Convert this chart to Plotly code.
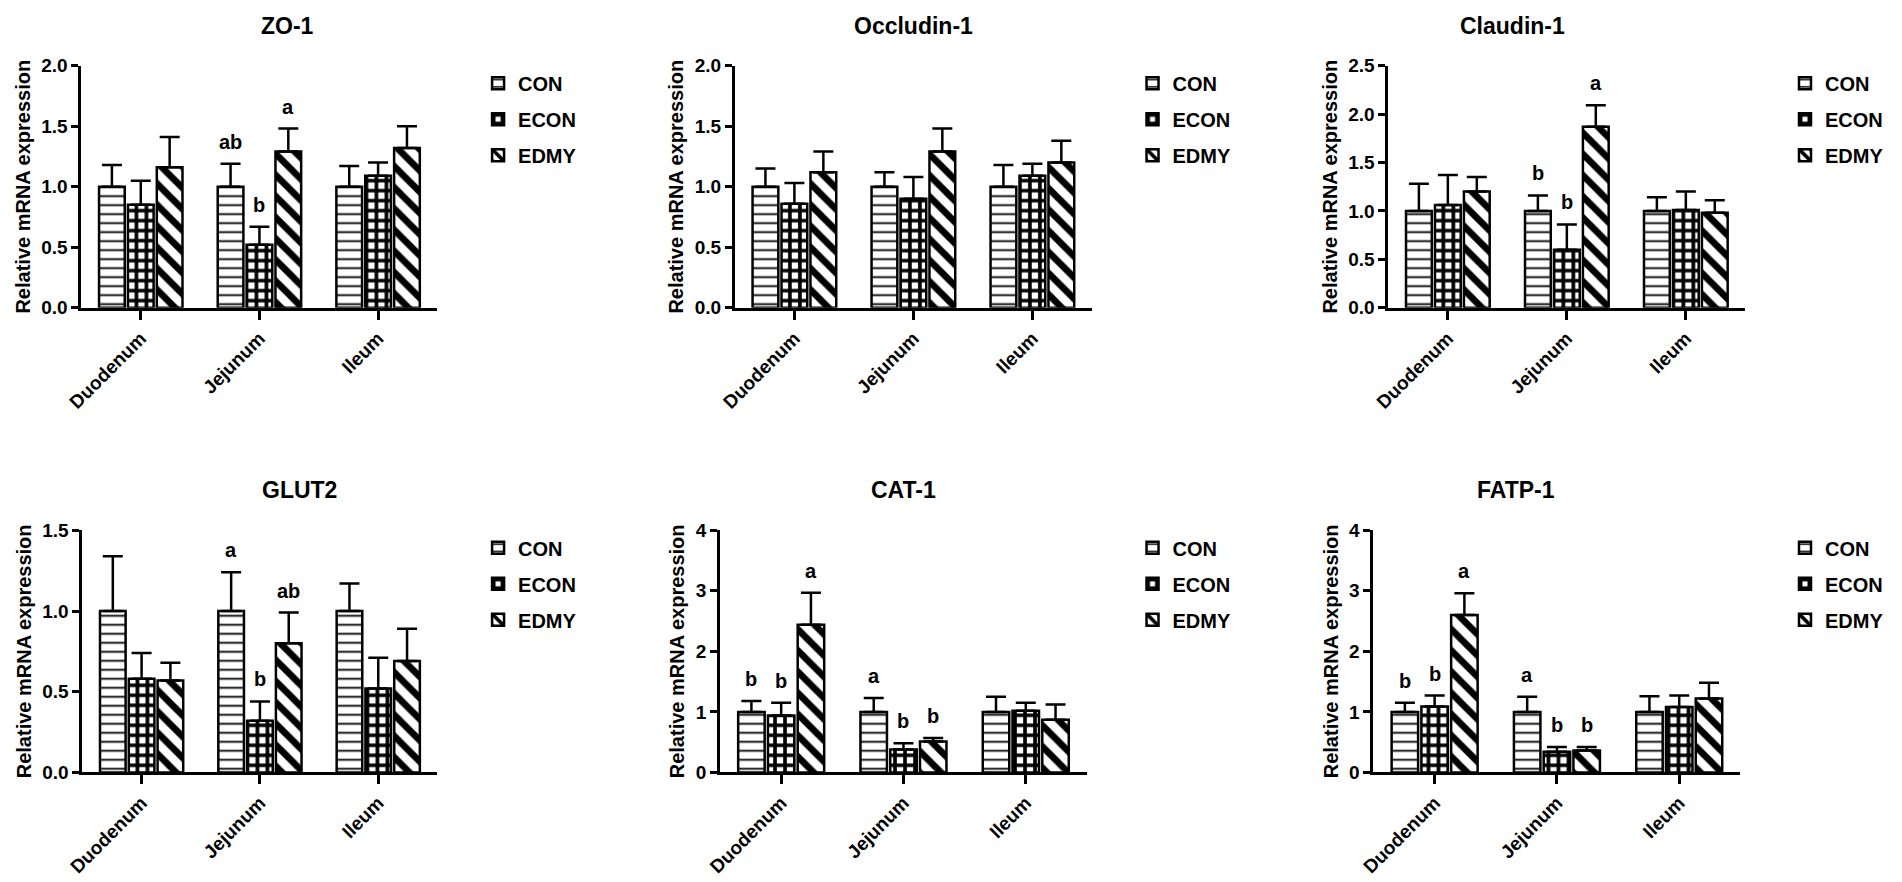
import plotly.graph_objects as go

SEGMENTS = ["Duodenum", "Jejunum", "Ileum"]
GROUPS = ["CON", "ECON", "EDMY"]

# rows: CON, ECON, EDMY  /  columns: Duodenum, Jejunum, Ileum
zo1_mean = [[1.00, 1.00, 1.00], [0.85, 0.52, 1.09], [1.16, 1.29, 1.32]]
zo1_sd = [[0.18, 0.19, 0.17], [0.20, 0.15, 0.11], [0.25, 0.19, 0.18]]
zo1_sig = [["", "ab", ""], ["", "b", ""], ["", "a", ""]]

occ_mean = [[1.00, 1.00, 1.00], [0.86, 0.90, 1.09], [1.12, 1.29, 1.20]]
occ_sd = [[0.15, 0.12, 0.18], [0.17, 0.18, 0.10], [0.17, 0.19, 0.18]]
occ_sig = [["", "", ""], ["", "", ""], ["", "", ""]]

cld_mean = [[1.00, 1.00, 1.00], [1.06, 0.60, 1.01], [1.20, 1.87, 0.98]]
cld_sd = [[0.28, 0.16, 0.14], [0.31, 0.26, 0.19], [0.15, 0.22, 0.13]]
cld_sig = [["", "b", ""], ["", "b", ""], ["", "a", ""]]

glut_mean = [[1.00, 1.00, 1.00], [0.58, 0.32, 0.52], [0.57, 0.80, 0.69]]
glut_sd = [[0.34, 0.24, 0.17], [0.16, 0.12, 0.19], [0.11, 0.19, 0.20]]
glut_sig = [["", "a", ""], ["", "b", ""], ["", "ab", ""]]

cat_mean = [[1.00, 1.00, 1.00], [0.94, 0.38, 1.02], [2.44, 0.51, 0.87]]
cat_sd = [[0.18, 0.23, 0.25], [0.21, 0.10, 0.13], [0.53, 0.06, 0.25]]
cat_sig = [["b", "a", ""], ["b", "b", ""], ["a", "b", ""]]

fatp_mean = [[1.00, 1.00, 1.00], [1.09, 0.34, 1.08], [2.60, 0.36, 1.22]]
fatp_sd = [[0.15, 0.25, 0.26], [0.18, 0.08, 0.19], [0.36, 0.06, 0.26]]
fatp_sig = [["b", "a", ""], ["b", "b", ""], ["a", "b", ""]]

W, H = 1902, 882
FONT = "Liberation Sans"
BARGAP = 0.27

# fill patterns for CON / ECON / EDMY
PATTERNS = [
    dict(shape="-", size=9, solidity=0.2),
    dict(shape="+", size=10, solidity=0.6),
    dict(shape="\\", size=15, solidity=0.45),
]

# title, data, y max, y step, tick format, plot box in px (x0, x1, ytop, ybottom), legend x px
panels = [
    ("ZO-1", zo1_mean, zo1_sd, zo1_sig, 2.0, 0.5, ".1f", (66, 425, 57, 305), 466),
    ("Occludin-1", occ_mean, occ_sd, occ_sig, 2.0, 0.5, ".1f", (725, 1085, 57, 305), 1126),
    ("Claudin-1", cld_mean, cld_sd, cld_sig, 2.5, 0.5, ".1f", (1384, 1744, 57, 305), 1784),
    ("GLUT2", glut_mean, glut_sd, glut_sig, 1.5, 0.5, ".1f", (67, 425, 533, 781), 466),
    ("CAT-1", cat_mean, cat_sd, cat_sig, 4, 1, "d", (710, 1080, 533, 781), 1126),
    ("FATP-1", fatp_mean, fatp_sd, fatp_sig, 4, 1, "d", (1369, 1739, 533, 781), 1784),
]

fig = go.Figure()
annotations = []
layout = {}
slot = (1 - BARGAP) / 3

for k, (title, mean, sd, sig, ymax, dtick, fmt, box, legx) in enumerate(panels, start=1):
    sfx = "" if k == 1 else str(k)
    x0, x1, yt, yb = box
    for gi, grp in enumerate(GROUPS):
        fig.add_trace(go.Bar(
            x=SEGMENTS, y=mean[gi], name=grp,
            xaxis="x" + sfx, yaxis="y" + sfx, legend="legend" + sfx,
            legendgroup=f"{k}-{grp}",
            marker=dict(color="white", line=dict(color="black", width=2.5),
                        pattern=dict(fgcolor="black", bgcolor="white", fgopacity=1,
                                     fillmode="replace", **PATTERNS[gi])),
            error_y=dict(type="data", symmetric=False, array=sd[gi], arrayminus=[0, 0, 0],
                         color="black", thickness=2.5, width=10),
        ))
        # significance letters above the error caps
        for ci in range(3):
            if sig[gi][ci]:
                annotations.append(dict(
                    x=ci + (gi - 1) * slot, y=mean[gi][ci] + sd[gi][ci],
                    xref="x" + sfx, yref="y" + sfx, text=sig[gi][ci],
                    showarrow=False, yanchor="middle", yshift=22,
                    font=dict(size=20, color="black", family=FONT, weight="bold"),
                ))
    annotations.append(dict(
        x=(x0 + x1) / 2 / W, y=1 - (yt - 41) / H, xref="paper", yref="paper",
        text=title, showarrow=False, yanchor="middle",
        font=dict(size=23, color="black", family=FONT, weight="bold"),
    ))
    axis_common = dict(showline=True, linecolor="black", linewidth=3, ticks="outside",
                       tickwidth=2.5, tickcolor="black", showgrid=False, zeroline=False,
                       tickfont=dict(size=19, family=FONT, color="black", weight="bold"))
    layout["xaxis" + sfx] = dict(domain=[x0 / W, x1 / W], anchor="y" + sfx, ticklen=9,
                                 tickangle=-45, **axis_common)
    layout["yaxis" + sfx] = dict(domain=[1 - yb / H, 1 - yt / H], anchor="x" + sfx,
                                 range=[0, ymax], dtick=dtick, tickformat=fmt, ticklen=7,
                                 title=dict(text="Relative mRNA expression", standoff=6,
                                            font=dict(size=20, family=FONT, color="black",
                                                      weight="bold")),
                                 **axis_common)
    layout["legend" + sfx] = dict(x=legx / W, y=1 - (yt - 2) / H, xanchor="left", yanchor="top",
                                  traceorder="grouped", tracegroupgap=7,
                                  bgcolor="rgba(0,0,0,0)",
                                  font=dict(size=20, family=FONT, color="black", weight="bold"))

fig.update_layout(
    width=W, height=H, margin=dict(l=0, r=0, t=0, b=0),
    paper_bgcolor="white", plot_bgcolor="white",
    barmode="group", bargap=BARGAP, bargroupgap=0.11,
    font=dict(family=FONT, color="black", weight="bold"),
    annotations=annotations, showlegend=True,
    **layout,
)

fig.write_html("out.html", config={"displayModeBar": False},
               post_script="document.body.style.margin='0';")
